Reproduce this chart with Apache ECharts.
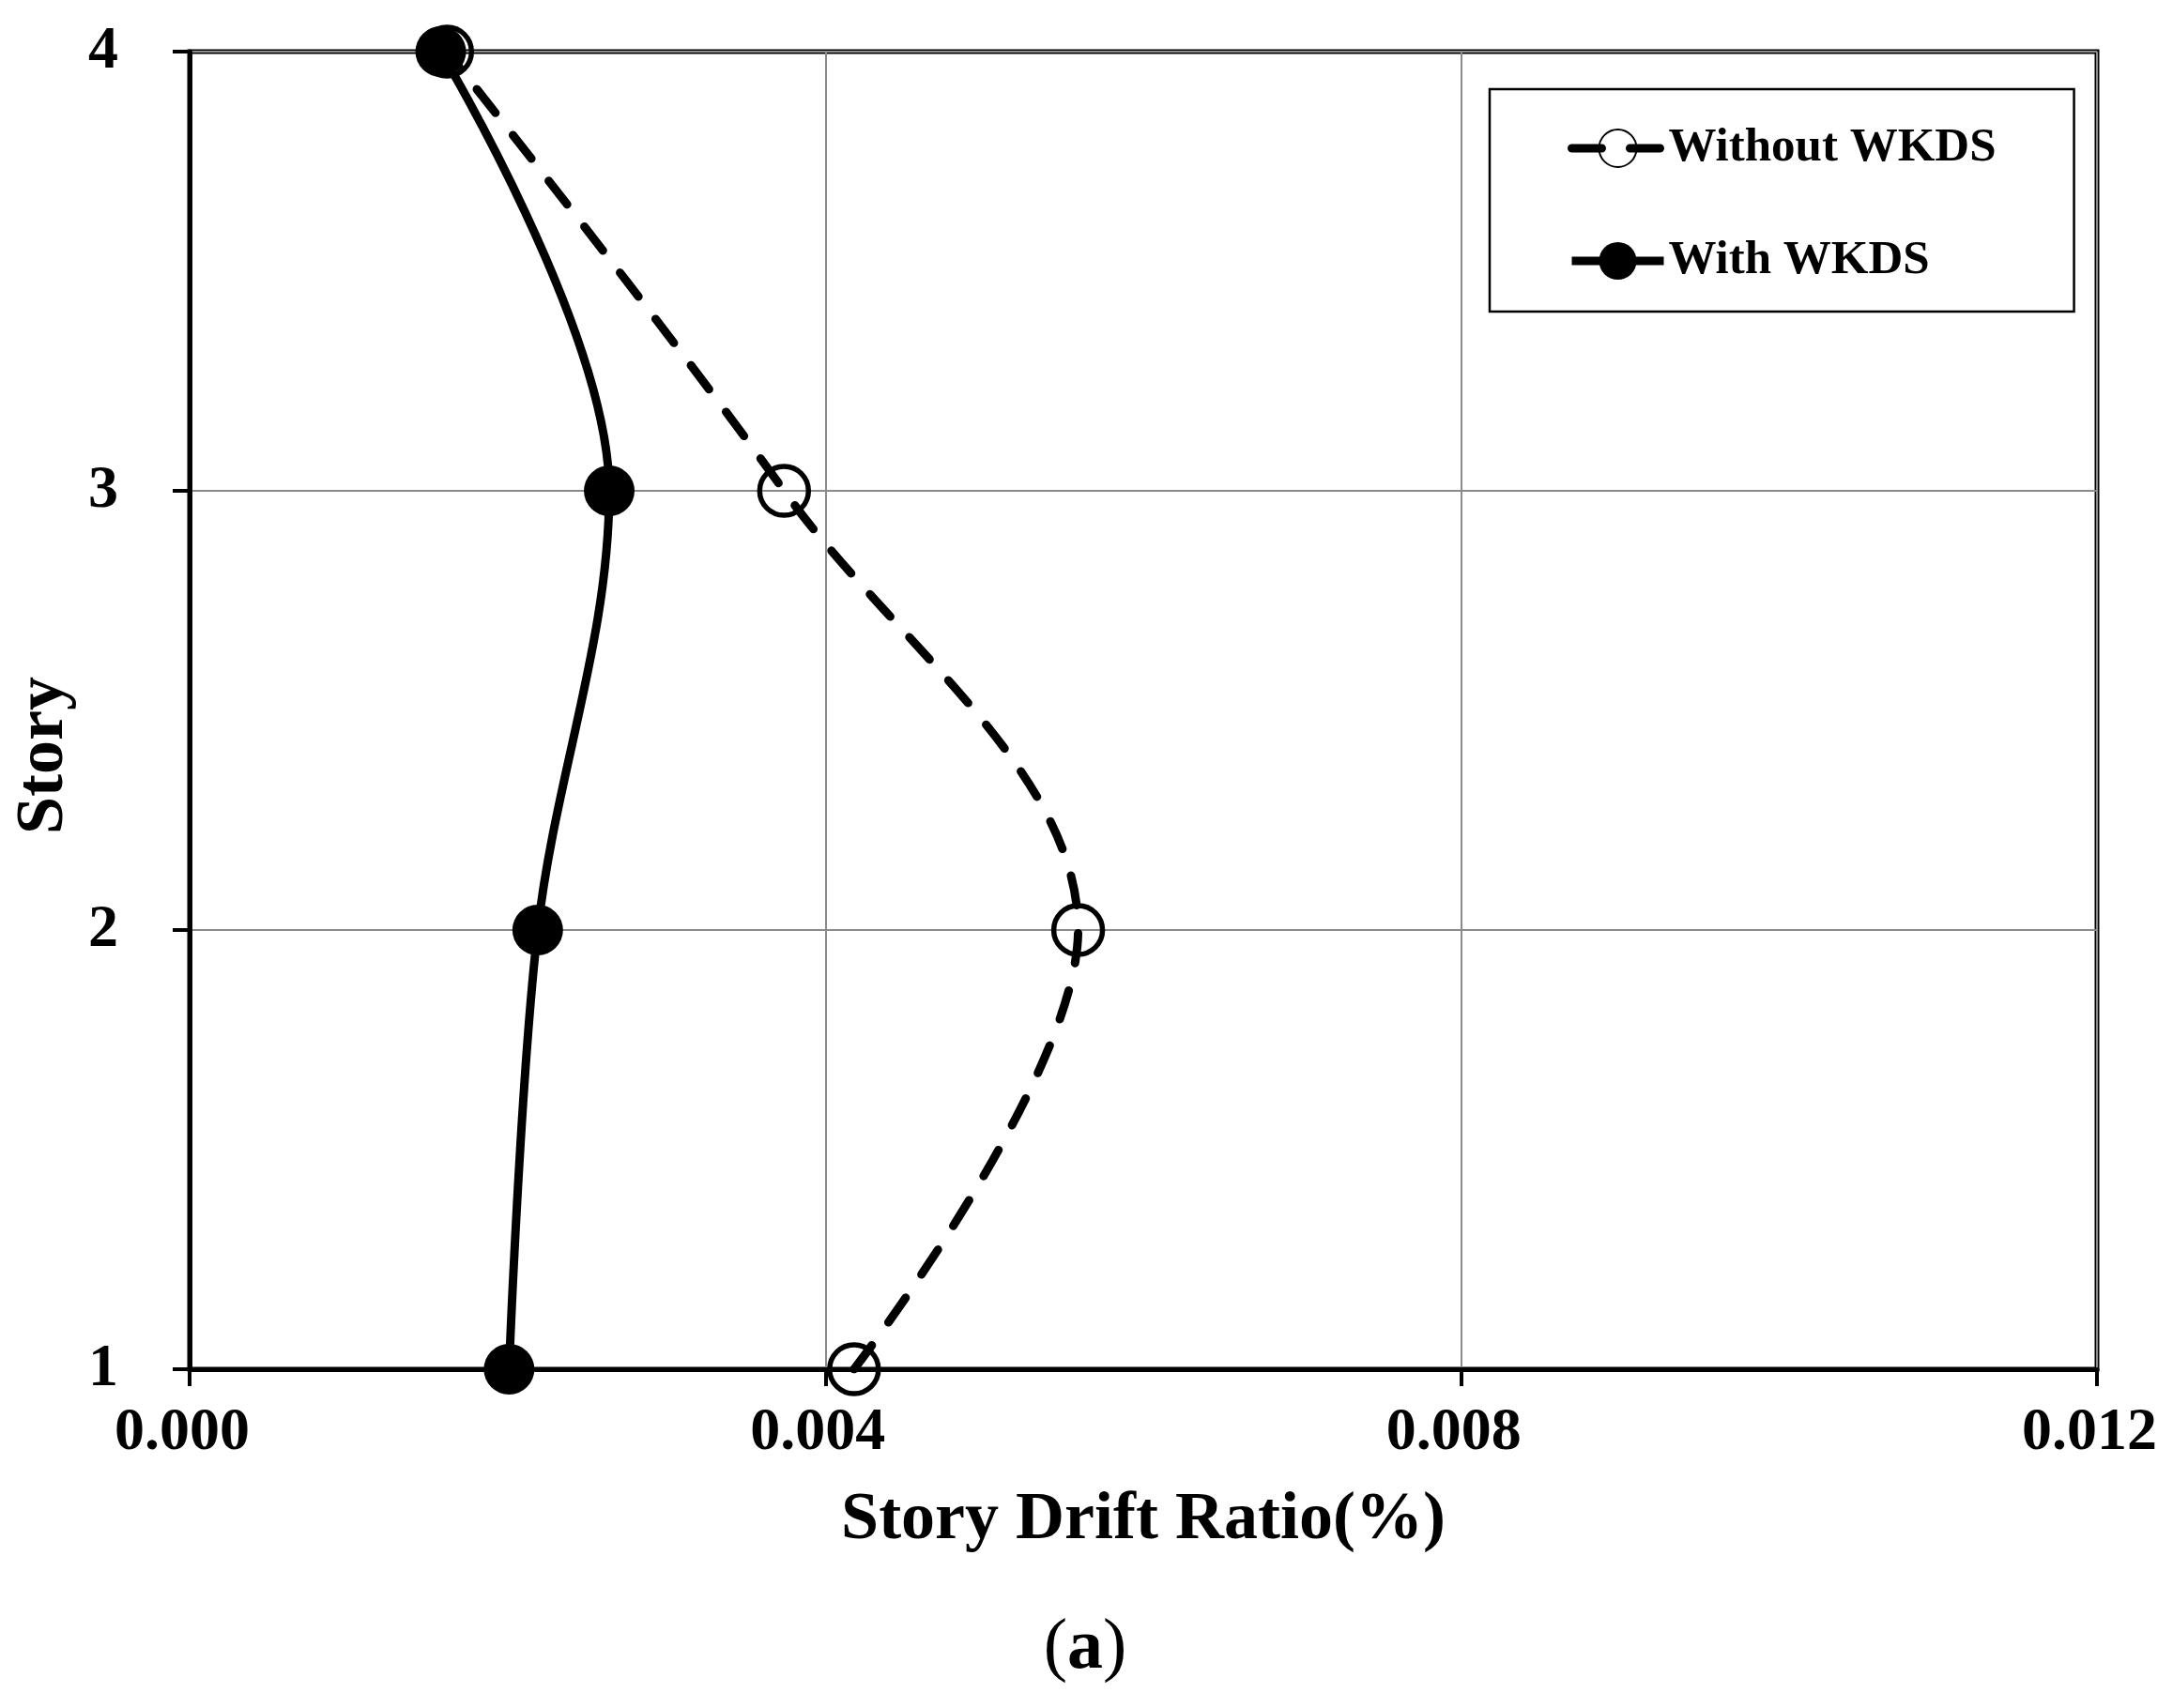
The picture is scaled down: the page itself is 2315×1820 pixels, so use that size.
<!DOCTYPE html>
<html>
<head>
<meta charset="utf-8">
<script src="https://cdn.jsdelivr.net/npm/echarts@6/dist/echarts.min.js"></script>
<style>
html,body{margin:0;padding:0;background:#fff;}
#chart{width:2315px;height:1820px;}
</style>
</head>
<body>
<div id="chart"></div>
<script>
// ---- data ----
var stories = [1, 2, 3, 4];
var withoutWKDS = [0.00418, 0.00559, 0.00374, 0.00162];
var withWKDS = [0.00201, 0.00219, 0.00264, 0.00158];
var xTicks = [0, 0.004, 0.008, 0.012];
var seriesNames = ['Without WKDS', 'With WKDS'];

function pairs(xs) {
  return stories.map(function (s, i) { return [xs[i], s]; });
}

var FONT = '"Liberation Serif", "Times New Roman", serif';
var chart = echarts.init(document.getElementById('chart'));
chart.setOption({
  animation: false,
  backgroundColor: '#fff',
  grid: {
    left: 202, right: 81, top: 55, bottom: 361,
    show: true, borderColor: '#000', borderWidth: 5, containLabel: false
  },
  xAxis: {
    type: 'value',
    min: xTicks[0], max: xTicks[xTicks.length - 1], interval: 0.004,
    name: 'Story Drift Ratio(%)',
    nameLocation: 'middle',
    nameGap: 125,
    nameTextStyle: { fontFamily: FONT, fontWeight: 'bold', fontSize: 72, color: '#000' },
    axisLine: { show: true, lineStyle: { color: '#000', width: 5 } },
    axisTick: { show: true, inside: false, length: 18, lineStyle: { color: '#000', width: 4 } },
    axisLabel: {
      margin: 36, fontFamily: FONT, fontWeight: 'bold', fontSize: 64, color: '#000',
      padding: [0, 16, 0, 0],
      formatter: function (v) { return v.toFixed(3); }
    },
    splitLine: { show: true, lineStyle: { color: '#8a8a8a', width: 2 } }
  },
  yAxis: {
    type: 'value',
    min: 1, max: 4, interval: 1,
    axisLine: { show: true, lineStyle: { color: '#000', width: 5 } },
    axisTick: { show: true, inside: false, length: 18, lineStyle: { color: '#000', width: 4 } },
    axisLabel: { margin: 76, fontFamily: FONT, fontWeight: 'bold', fontSize: 64, color: '#000' },
    splitLine: { show: true, lineStyle: { color: '#8a8a8a', width: 2 } }
  },
  legend: {
    orient: 'vertical',
    left: 1587, top: 95,
    padding: [37, 83, 28, 83],
    itemGap: 68,
    itemWidth: 98, itemHeight: 50,
    borderColor: '#000', borderWidth: 2.5,
    backgroundColor: '#fff',
    lineStyle: { width: 9 },
    textStyle: { fontFamily: FONT, fontWeight: 'bold', fontSize: 51, lineHeight: 52, color: '#000' },
    data: seriesNames
  },
  graphic: [
    {
      type: 'text', x: 47, y: 805, rotation: Math.PI / 2,
      style: {
        text: 'Story', fontFamily: FONT, fontWeight: 'bold', fontSize: 72, fill: '#000',
        align: 'center', verticalAlign: 'middle'
      }
    },
    {
      type: 'text', x: 1156, y: 1757,
      style: {
        text: '{p|(}{a|a}{p|)}',
        align: 'center', verticalAlign: 'middle',
        rich: {
          p: { fontFamily: FONT, fontWeight: 'normal', fontSize: 76, fill: '#000' },
          a: { fontFamily: FONT, fontWeight: 'bold', fontSize: 76, fill: '#000' }
        }
      }
    }
  ],
  series: [
    {
      name: seriesNames[0],
      type: 'line',
      smooth: 0.35,
      data: pairs(withoutWKDS),
      symbol: 'circle',
      symbolSize: 52,
      lineStyle: { color: '#000', width: 9, type: [32, 30], cap: 'round' },
      itemStyle: { color: 'rgba(255,255,255,0)', borderColor: '#000', borderWidth: 5.5 },
      z: 2
    },
    {
      name: seriesNames[1],
      type: 'line',
      smooth: 0.35,
      data: pairs(withWKDS),
      symbol: 'circle',
      symbolSize: 54,
      lineStyle: { color: '#000', width: 9 },
      itemStyle: { color: '#000', borderColor: '#000', borderWidth: 0 },
      z: 3
    }
  ]
});
</script>
</body>
</html>
